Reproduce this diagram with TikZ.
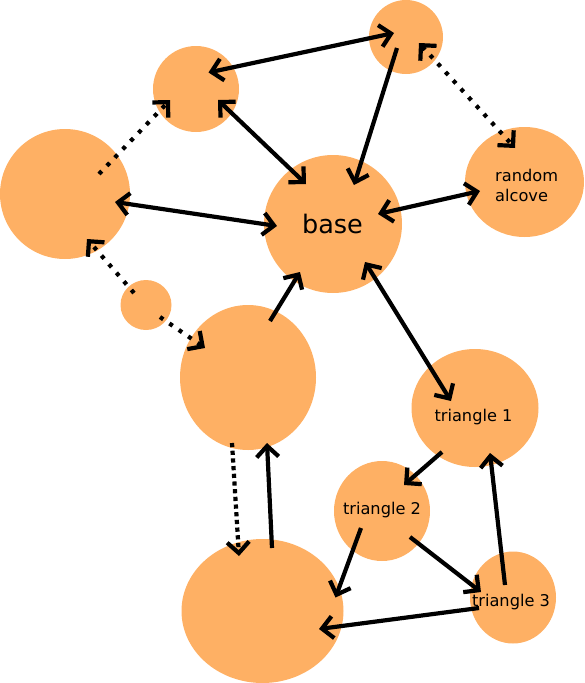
\documentclass[tikz,border=0pt]{standalone}
\usepackage{fontspec}
\setmainfont{DejaVu Sans}
\usetikzlibrary{shapes.geometric,arrows.meta}
\definecolor{blobfill}{RGB}{254,176,100}
\begin{document}
\begin{tikzpicture}[x=1pt,y=-1pt,
  blob/.style={ellipse,fill=blobfill,draw=none,inner sep=0pt},
  tipv/.tip={Straight Barb[length=11pt,width=22pt,sharp,line width=4.2pt]},
  conn/.style={line width=4.2pt,-tipv},
  bconn/.style={line width=4.2pt,tipv-tipv},
  dotd/.style={line width=4.2pt,dash pattern=on 4pt off 7.4pt},
  dotv/.style={line width=4.2pt,dash pattern=on 4.2pt off 3.5pt},
  lbl/.style={font=\fontsize{16.2}{20}\selectfont,inner sep=0pt,anchor=base}]
\useasboundingbox (0,0) rectangle (584,683);

% nodes
\node[blob,minimum width=74pt,minimum height=74pt] (tr) at (406,37) {};
\node[blob,minimum width=86pt,minimum height=86pt] (tl) at (196,89) {};
\node[blob,minimum width=130pt,minimum height=130pt] (lb) at (65,194) {};
\node[blob,minimum width=138pt,minimum height=138pt] (base) at (333,224) {};
\node[blob,minimum width=119pt,minimum height=110pt] (ra) at (524.5,182) {};
\node[blob,minimum width=51pt,minimum height=50pt] (sm) at (146,305) {};
\node[blob,minimum width=136pt,minimum height=145pt] (mid) at (248,377.5) {};
\node[blob,minimum width=127pt,minimum height=118pt] (t1) at (475,408) {};
\node[blob,minimum width=96pt,minimum height=100pt] (t2) at (382,511) {};
\node[blob,minimum width=86pt,minimum height=92pt] (t3) at (513,597.5) {};
\node[blob,minimum width=162pt,minimum height=144pt] (bot) at (262.5,611) {};

% labels
\node[lbl,font=\fontsize{25.5}{30}\selectfont] (baselbl) at (332.5,233) {base};
\node[lbl,anchor=base west] (ralbl1) at (495,181.7) {random};
\node[lbl,anchor=base west] (ralbl2) at (495,201.7) {alcove};
\node[lbl] (t1lbl) at (473.5,421.5) {triangle 1};
\node[lbl] (t2lbl) at (382,514.3) {triangle 2};
\node[lbl] (t3lbl) at (511,606) {triangle 3};

% connector end points
\coordinate (tl-a) at (208.5,72.5);  \coordinate (tr-a) at (394,33);
\coordinate (tl-b) at (218,100);     \coordinate (base-b) at (306,184);
\coordinate (tr-c) at (397,48);      \coordinate (base-c) at (354,185);
\coordinate (lb-d) at (115,202);     \coordinate (base-d) at (277,226);
\coordinate (base-e) at (378,214);   \coordinate (ra-e) at (480,191);
\coordinate (mid-f) at (270,321);    \coordinate (base-f) at (300,272);
\coordinate (base-g) at (365,262);   \coordinate (t1-g) at (451,401);
\coordinate (t1-h) at (442,452);     \coordinate (t2-h) at (404,485);
\coordinate (t2-i) at (361,528);     \coordinate (bot-i) at (335.5,597.5);
\coordinate (t2-j) at (410,537);     \coordinate (t3-j) at (481,592);
\coordinate (t3-k) at (505,585);     \coordinate (t1-k) at (490,453);
\coordinate (t3-l) at (479,608);     \coordinate (bot-l) at (319,629);
\coordinate (bot-m) at (272,548);    \coordinate (mid-m) at (267,443);
\coordinate (lb-n) at (99,174);      \coordinate (tl-n) at (170,100);
\coordinate (tr-o) at (419,43);      \coordinate (ra-o) at (515,148);
\coordinate (sm-p) at (134,293);     \coordinate (lb-p) at (87,239);
\coordinate (sm-q) at (160,317);     \coordinate (mid-q) at (205,348);
\coordinate (mid-r) at (232,443);    \coordinate (bot-r) at (239,556);

% solid connectors
\draw[bconn] (tl-a) -- (tr-a);
\draw[bconn] (tl-b) -- (base-b);
\draw[conn] (tr-c) -- (base-c);
\draw[bconn] (lb-d) -- (base-d);
\draw[bconn] (base-e) -- (ra-e);
\draw[conn] (mid-f) -- (base-f);
\draw[bconn] (base-g) -- (t1-g);
\draw[conn] (t1-h) -- (t2-h);
\draw[conn] (t2-i) -- (bot-i);
\draw[conn] (t2-j) -- (t3-j);
\draw[conn] (t3-k) -- (t1-k);
\draw[conn] (t3-l) -- (bot-l);
\draw[conn] (bot-m) -- (mid-m);

% dotted connectors
\draw[dotd,-tipv] (lb-n) -- (tl-n);
\draw[dotd,tipv-tipv] (tr-o) -- (ra-o);
\draw[dotd,-tipv] (sm-p) -- (lb-p);
\draw[dotd,-tipv] (sm-q) -- (mid-q);
\draw[dotv,-tipv] (mid-r) -- (bot-r);
\end{tikzpicture}
\end{document}
